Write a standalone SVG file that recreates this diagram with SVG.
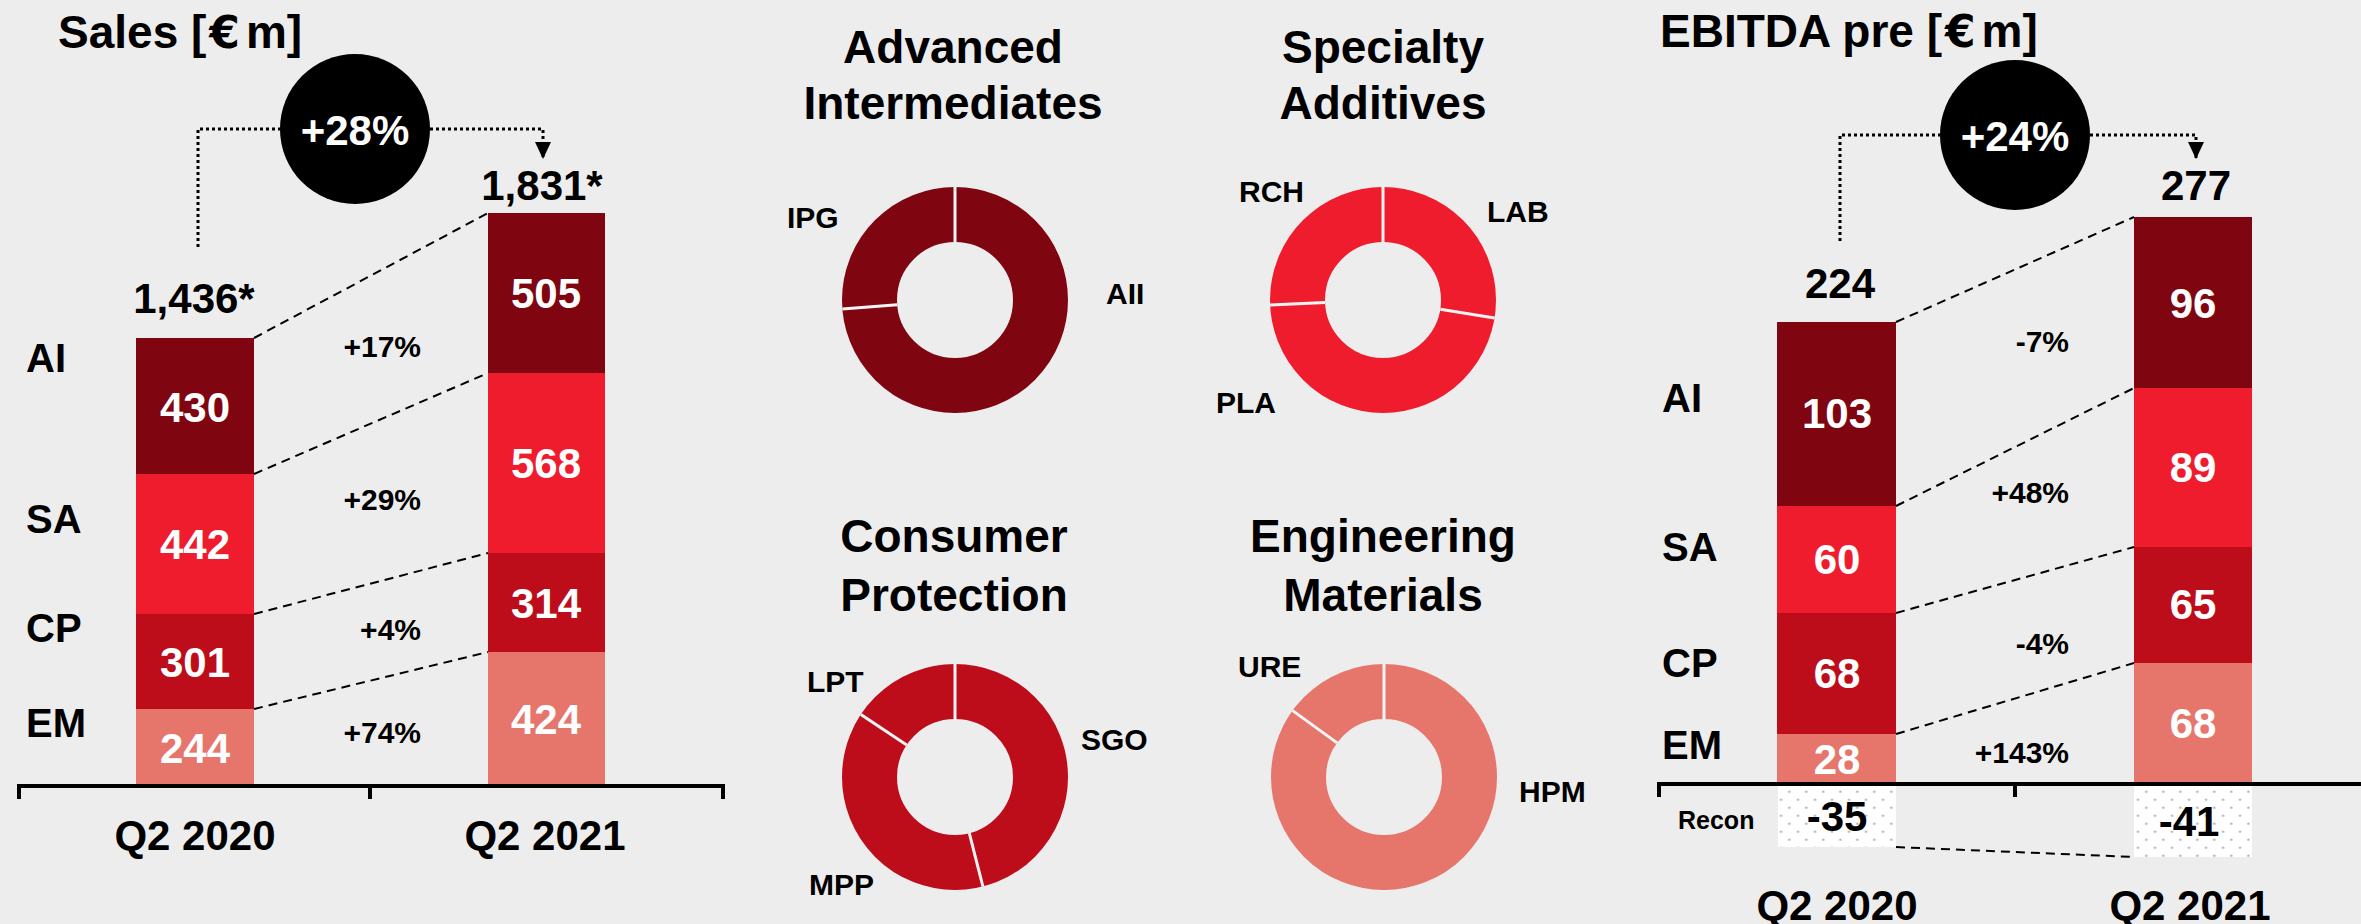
<svg xmlns="http://www.w3.org/2000/svg" width="2361" height="924" viewBox="0 0 2361 924">
<style>
text{font-family:"Liberation Sans",Arial,sans-serif;font-weight:bold;fill:#000}
.title{font-size:46px}
.eur{font-family:"DejaVu Sans",sans-serif;font-size:44px}
.dtitle{font-size:46px;text-anchor:middle}
.seg{font-size:40px}
.val{font-size:42px;fill:#fff;text-anchor:middle}
.tot{font-size:42px;text-anchor:middle}
.pct{font-size:30px;text-anchor:end}
.lbl{font-size:30px}
.big{font-size:42px;fill:#fff;text-anchor:middle}
.ai{fill:#7F0611}.sa{fill:#EF1C2D}.cp{fill:#BD0C1A}.em{fill:#E6766B}
.dash{fill:none;stroke:#000;stroke-width:2;stroke-dasharray:9 6}
.dot{fill:none;stroke:#000;stroke-width:3;stroke-dasharray:3 3}
.axis{fill:none;stroke:#000;stroke-width:4}
.sep{stroke:#F4F4F4;stroke-width:3}
.ring{fill:none;stroke-width:55}
</style>
<defs>
<marker id="arr" markerUnits="userSpaceOnUse" markerWidth="17" markerHeight="16" refX="17" refY="8" orient="auto" viewBox="0 0 17 16">
<path d="M0,0 L17,8 L0,16 Z" fill="#000"/>
</marker>
<pattern id="dots" patternUnits="userSpaceOnUse" x="1776.5" y="787.7" width="17" height="16">
<rect width="17" height="16" fill="#fff"/>
<rect x="11.8" y="3" width="2" height="2" fill="#A8A8A8"/>
<rect x="3.5" y="11" width="2" height="2" fill="#A8A8A8"/>
</pattern>
</defs>
<rect width="2361" height="924" fill="#EDEDED"/>

<!-- Sales chart -->
<g id="sales-title"><text class="title" x="58" y="48">Sales [<tspan class="eur" dx="3">€</tspan><tspan dx="6">m</tspan>]</text></g>
<g id="sales-growth"><circle cx="355" cy="129" r="75" fill="#000"/><text class="big" x="355" y="145">+28%</text></g>
<g id="sales-labels">
<text class="seg" x="26" y="372">AI</text>
<text class="seg" x="26" y="533">SA</text>
<text class="seg" x="26" y="642">CP</text>
<text class="seg" x="26" y="737">EM</text>
</g>
<g id="sales-2020">
<rect class="ai" x="136" y="338" width="118" height="136"/>
<rect class="sa" x="136" y="474" width="118" height="140"/>
<rect class="cp" x="136" y="614" width="118" height="95"/>
<rect class="em" x="136" y="709" width="118" height="75"/>
<text class="val" x="195" y="422">430</text>
<text class="val" x="195" y="559">442</text>
<text class="val" x="195" y="677">301</text>
<text class="val" x="195" y="763">244</text>
<text class="tot" x="194" y="313">1,436*</text>
</g>
<g id="sales-2021">
<rect class="ai" x="488" y="213" width="117" height="160"/>
<rect class="sa" x="488" y="373" width="117" height="180"/>
<rect class="cp" x="488" y="553" width="117" height="99"/>
<rect class="em" x="488" y="652" width="117" height="132"/>
<text class="val" x="546" y="308">505</text>
<text class="val" x="546" y="478">568</text>
<text class="val" x="546" y="618">314</text>
<text class="val" x="546" y="734">424</text>
<text class="tot" x="542" y="200">1,831*</text>
</g>
<g id="sales-pct">
<text class="pct" x="421" y="357">+17%</text>
<text class="pct" x="421" y="510">+29%</text>
<text class="pct" x="421" y="640">+4%</text>
<text class="pct" x="421" y="743">+74%</text>
</g>
<g id="sales-axis">
<path class="axis" d="M19,799 V786 H723 V799 M370,786 V799"/>
<text class="tot" x="195" y="850">Q2 2020</text>
<text class="tot" x="545" y="850">Q2 2021</text>
</g>

<!-- Donuts -->
<g id="donut-ai">
<text class="dtitle" x="953" y="63">Advanced</text>
<text class="dtitle" x="953" y="119">Intermediates</text>
<circle class="ring" cx="955" cy="300" r="85.5" stroke="#7F0611"/>
<line class="sep" x1="955" y1="242" x2="955" y2="187"/>
<line class="sep" x1="897.2" y1="304.7" x2="842.4" y2="309.1"/>
<text class="lbl" x="787" y="228">IPG</text>
<text class="lbl" x="1106" y="304">AII</text>
</g>
<g id="donut-sa">
<text class="dtitle" x="1383" y="63">Specialty</text>
<text class="dtitle" x="1383" y="119">Additives</text>
<circle class="ring" cx="1383" cy="300" r="85.5" stroke="#EF1C2D"/>
<line class="sep" x1="1383" y1="242" x2="1383" y2="187"/>
<line class="sep" x1="1440.3" y1="309.3" x2="1494.5" y2="318.1"/>
<line class="sep" x1="1325.1" y1="302.6" x2="1270.1" y2="305.1"/>
<text class="lbl" x="1239" y="202">RCH</text>
<text class="lbl" x="1487" y="222">LAB</text>
<text class="lbl" x="1216" y="413">PLA</text>
</g>
<g id="donut-cp">
<text class="dtitle" x="954" y="552">Consumer</text>
<text class="dtitle" x="954" y="611">Protection</text>
<circle class="ring" cx="955" cy="777" r="85.5" stroke="#BD0C1A"/>
<line class="sep" x1="955" y1="719" x2="955" y2="664"/>
<line class="sep" x1="969.3" y1="833.2" x2="982.9" y2="886.5"/>
<line class="sep" x1="906.7" y1="744.9" x2="860.9" y2="714.5"/>
<text class="lbl" x="807" y="692">LPT</text>
<text class="lbl" x="1081" y="750">SGO</text>
<text class="lbl" x="809" y="895">MPP</text>
</g>
<g id="donut-em">
<text class="dtitle" x="1383" y="552">Engineering</text>
<text class="dtitle" x="1383" y="611">Materials</text>
<circle class="ring" cx="1384" cy="777" r="85.5" stroke="#E6766B"/>
<line class="sep" x1="1384" y1="719" x2="1384" y2="664"/>
<line class="sep" x1="1337.1" y1="742.9" x2="1292.6" y2="710.6"/>
<text class="lbl" x="1238" y="677">URE</text>
<text class="lbl" x="1519" y="802">HPM</text>
</g>

<!-- EBITDA chart -->
<g id="ebitda-title"><text class="title" x="1660" y="47">EBITDA pre [<tspan class="eur" dx="3">€</tspan><tspan dx="6">m</tspan>]</text></g>
<g id="ebitda-growth"><circle cx="2015" cy="135" r="75" fill="#000"/><text class="big" x="2015" y="151">+24%</text></g>
<g id="ebitda-labels">
<text class="seg" x="1662" y="412">AI</text>
<text class="seg" x="1662" y="561">SA</text>
<text class="seg" x="1662" y="677">CP</text>
<text class="seg" x="1662" y="759">EM</text>
</g>
<g id="ebitda-2020">
<rect class="ai" x="1777" y="322" width="119" height="184"/>
<rect class="sa" x="1777" y="506" width="119" height="107"/>
<rect class="cp" x="1777" y="613" width="119" height="121"/>
<rect class="em" x="1777" y="734" width="119" height="48"/>
<text class="val" x="1837" y="428">103</text>
<text class="val" x="1837" y="574">60</text>
<text class="val" x="1837" y="688">68</text>
<text class="val" x="1837" y="774">28</text>
<text class="tot" x="1840" y="298">224</text>
</g>
<g id="ebitda-2021">
<rect class="ai" x="2134" y="217" width="118" height="171"/>
<rect class="sa" x="2134" y="388" width="118" height="159"/>
<rect class="cp" x="2134" y="547" width="118" height="116"/>
<rect class="em" x="2134" y="663" width="118" height="119"/>
<text class="val" x="2193" y="318">96</text>
<text class="val" x="2193" y="482">89</text>
<text class="val" x="2193" y="619">65</text>
<text class="val" x="2193" y="738">68</text>
<text class="tot" x="2196" y="200">277</text>
</g>
<g id="ebitda-pct">
<text class="pct" x="2069" y="352">-7%</text>
<text class="pct" x="2069" y="503">+48%</text>
<text class="pct" x="2069" y="654">-4%</text>
<text class="pct" x="2069" y="763">+143%</text>
</g>
<g id="recon">
<rect x="1778" y="786" width="118" height="61" fill="url(#dots)"/>
<rect x="2134" y="786" width="118" height="71" fill="url(#dots)"/>
<text style="font-size:25px" x="1678" y="829">Recon</text>
<text class="tot" x="1837" y="831">-35</text>
<text class="tot" x="2189" y="836">-41</text>
</g>
<g id="ebitda-axis">
<path class="axis" d="M1659,797 V784 H2361 M2015,784 V797"/>
<text class="tot" x="1837" y="920">Q2 2020</text>
<text class="tot" x="2190" y="920">Q2 2021</text>
</g>

<g id="connectors">
<path class="dash" d="M254,338 L488,213"/>
<path class="dash" d="M254,474 L488,373"/>
<path class="dash" d="M254,614 L488,553"/>
<path class="dash" d="M254,709 L488,652"/>
<path class="dot" d="M198,247 V129 H280"/>
<path class="dot" d="M430,129 H543 V159" marker-end="url(#arr)"/>
<path class="dash" d="M1896,322 L2134,217"/>
<path class="dash" d="M1896,506 L2134,388"/>
<path class="dash" d="M1896,613 L2134,547"/>
<path class="dash" d="M1896,734 L2134,663"/>
<path class="dash" d="M1896,847 L2134,857"/>
<path class="dot" d="M1840,241 V135 H1940"/>
<path class="dot" d="M2090,135 H2196 V159" marker-end="url(#arr)"/>
</g>
</svg>
